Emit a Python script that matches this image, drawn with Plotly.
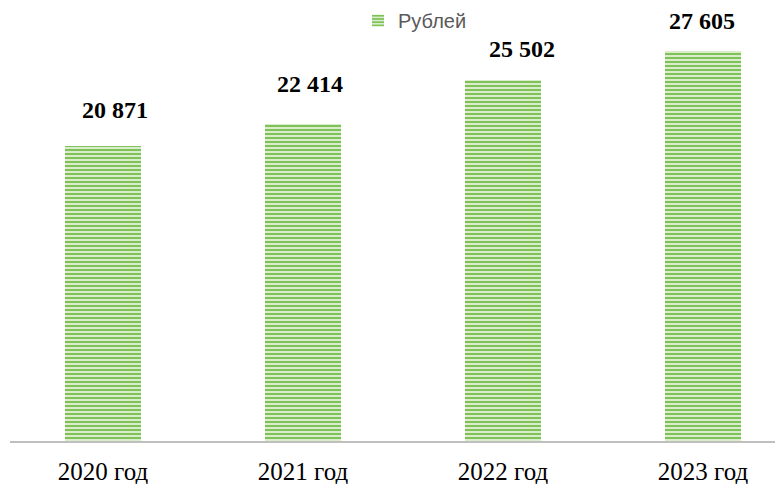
import plotly.graph_objects as go

categories = ["2020 год", "2021 год", "2022 год", "2023 год"]
values = [20871, 22414, 25502, 27605]
value_labels = ["20 871", "22 414", "25 502", "27 605"]
series_name = "Рублей"

# manual label nudges (px) as placed in the original chart
label_dx = [12, 7, 19, -1]
label_dy = [36, 40, 31, 30]

fig = go.Figure()
fig.add_trace(go.Bar(
    x=categories, y=values, name=series_name, width=0.38,
    marker=dict(color="#dff0d4", line=dict(width=0),
                pattern=dict(shape="-", fgcolor="#7fc257", bgcolor="#e3f2da",
                             size=4, solidity=0.55, fillmode="replace")),
    showlegend=True,
))
for c, v, t, dx, dy in zip(categories, values, value_labels, label_dx, label_dy):
    fig.add_annotation(x=c, y=v, text="<b>" + t + "</b>", showarrow=False,
                       yanchor="middle", xshift=dx, yshift=dy,
                       font=dict(family="Liberation Serif", size=24, color="#000000"))

fig.update_layout(
    width=783, height=484,
    margin=dict(l=2, r=0, t=0, b=51, autoexpand=False),
    paper_bgcolor="white", plot_bgcolor="white",
    bargap=0,
    legend=dict(orientation="h", x=0.4456, xanchor="left", y=1.016, yanchor="top",
                font=dict(family="Liberation Sans", size=20, color="#595959"),
                itemwidth=30, bgcolor="rgba(0,0,0,0)"),
    xaxis=dict(range=[-0.465, 3.44], showline=True, linecolor="#bfbfbf", linewidth=2,
               ticks="", ticklabelstandoff=7,
               tickfont=dict(family="Liberation Serif", size=25, color="#000000"),
               showgrid=False),
    yaxis=dict(range=[0, 30622], visible=False, showgrid=False),
)
fig.write_html("out.html")
